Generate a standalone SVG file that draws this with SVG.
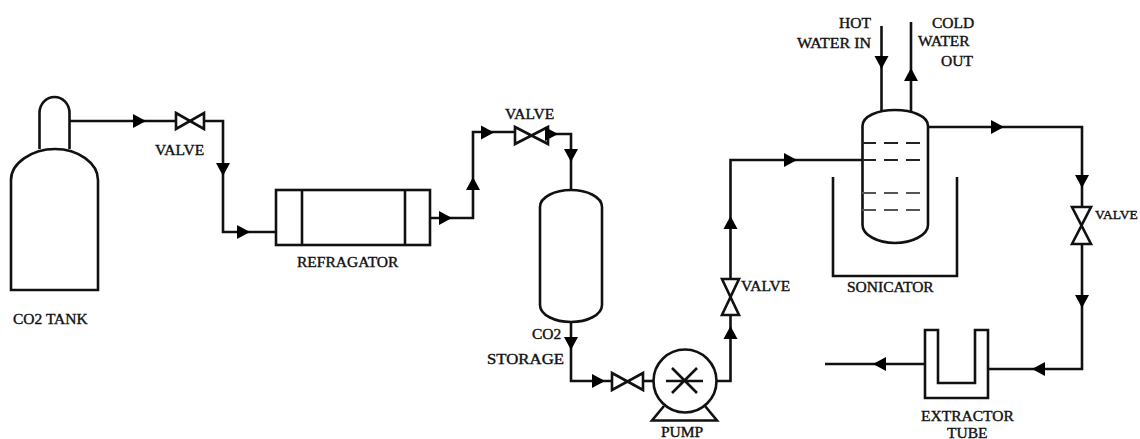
<svg xmlns="http://www.w3.org/2000/svg" width="1140" height="439" viewBox="0 0 1140 439">
<style>
.s{fill:none;stroke:#111;stroke-width:2.6;stroke-linejoin:miter}
.v{fill:#fff;stroke:#111;stroke-width:2.6}
.a{fill:#000}
.d{fill:none;stroke:#222;stroke-width:2.2;stroke-dasharray:14 8}
.g{fill:none;stroke:#555;stroke-width:2.2;stroke-dasharray:14 8}
text{font-family:"Liberation Serif","Times New Roman",serif;font-size:15.500px;fill:#111;stroke:#111;stroke-width:.4}
</style>
<defs>
<path id="ar" class="a" d="M-6,-7L7,0L-6,7Z"/>
</defs>
<rect width="1140" height="439" fill="#fff"/>
<g id="connectors">
<path class="s" d="M69,121H223V232H276"/>
<path class="s" d="M430,218H473V132H515"/>
<path class="s" d="M553,134H571V190"/>
<path class="s" d="M571,322V381H612"/>
<path class="s" d="M644,381H654"/>
<path class="s" d="M716,381H730.500V316"/>
<path class="s" d="M730.500,279V160H863"/>
<path class="s" d="M881.500,26V111"/>
<path class="s" d="M911,22V113"/>
<path class="s" d="M928,127H1082V207"/>
<path class="s" d="M1082,244V369H988"/>
<path class="s" d="M925,364H825"/>
<use href="#ar" x="139" y="121"/>
<use href="#ar" transform="translate(223,169) rotate(90)"/>
<use href="#ar" x="243" y="232"/>
<use href="#ar" x="445" y="218"/>
<use href="#ar" transform="translate(473,184) rotate(-90)"/>
<use href="#ar" x="487" y="132.500"/>
<use href="#ar" transform="translate(571,155) rotate(90)"/>
<use href="#ar" transform="translate(571,343) rotate(90)"/>
<use href="#ar" x="598" y="381"/>
<use href="#ar" transform="translate(730.500,333) rotate(-90)"/>
<use href="#ar" transform="translate(730.500,223) rotate(-90)"/>
<use href="#ar" x="790" y="160"/>
<use href="#ar" transform="translate(881.500,62) rotate(90)"/>
<use href="#ar" transform="translate(911,75) rotate(-90)"/>
<use href="#ar" x="997" y="127"/>
<use href="#ar" transform="translate(1082,181) rotate(90)"/>
<use href="#ar" transform="translate(1082,301) rotate(90)"/>
<use href="#ar" transform="translate(1039,369) rotate(180)"/>
<use href="#ar" transform="translate(880,364) rotate(180)"/>
</g>
<g id="co2-tank">
<path class="v" d="M39.500,149V113A15,16 0 0 1 69.500,113V149"/>
<path class="v" d="M11,290V180C11,163 32,149 55,149C78,149 98,163 98,180V290Z"/>
<text x="13" y="324">CO2 TANK</text>
</g>
<g id="valve-1">
<path class="v" d="M176,113L204,129V113L176,129Z"/>
<text x="155" y="155">VALVE</text>
</g>
<g id="refragator">
<rect class="v" x="276" y="190" width="154" height="55"/>
<path class="s" d="M302,190V245M405,190V245"/>
<text x="297" y="267">REFRAGATOR</text>
</g>
<g id="valve-2">
<path class="v" d="M515,127L548,144V127L515,144Z"/>
<use href="#ar" x="551" y="134"/>
<text x="505" y="119">VALVE</text>
</g>
<g id="co2-storage">
<path class="v" d="M540,207C540,197 555,190 571,190C587,190 602,197 602,207V305C602,315 587,322 571,322C555,322 540,315 540,305Z"/>
<text x="532" y="339">CO2</text>
<text x="487" y="364" textLength="77" lengthAdjust="spacingAndGlyphs">STORAGE</text>
</g>
<g id="valve-3">
<path class="v" d="M612,373L643,390V373L612,390Z"/>
</g>
<g id="pump">
<path class="s" d="M664,406L652,420.500H717L705,406"/>
<circle class="v" cx="685" cy="381" r="31.500"/>
<path class="s" d="M666,381H703M672,368L697,393M697,368L672,393"/>
<text x="661" y="436.500">PUMP</text>
</g>
<g id="valve-4">
<path class="v" d="M722,279H739L722,315H739Z"/>
<text x="741" y="291">VALVE</text>
</g>
<g id="sonicator">
<path class="s" d="M833,177V276H957V177"/>
<path class="v" d="M862.500,126C862.500,116 878,110 895,110C912,110 928,116 928,126V225C928,235 912,243 895,243C878,243 862.500,235 862.500,225Z"/>
<path class="d" d="M862,143H920M862,160H920"/>
<path class="g" d="M862,193H920M862,210H920"/>
<text x="847" y="292">SONICATOR</text>
</g>
<g id="hot-water">
<text x="839" y="28">HOT</text>
<text x="797" y="48" textLength="74" lengthAdjust="spacingAndGlyphs">WATER IN</text>
</g>
<g id="cold-water">
<text x="932" y="28">COLD</text>
<text x="918" y="46">WATER</text>
<text x="941" y="66">OUT</text>
</g>
<g id="valve-5">
<path class="v" d="M1072,207H1091L1072,244H1091Z"/>
<text x="1095" y="219" style="font-size:13.500px">VALVE</text>
</g>
<g id="extractor">
<path class="v" d="M925,330H938V383H975V330H988V398H925Z"/>
<text x="921" y="421">EXTRACTOR</text>
<text x="947" y="438">TUBE</text>
</g>
</svg>
